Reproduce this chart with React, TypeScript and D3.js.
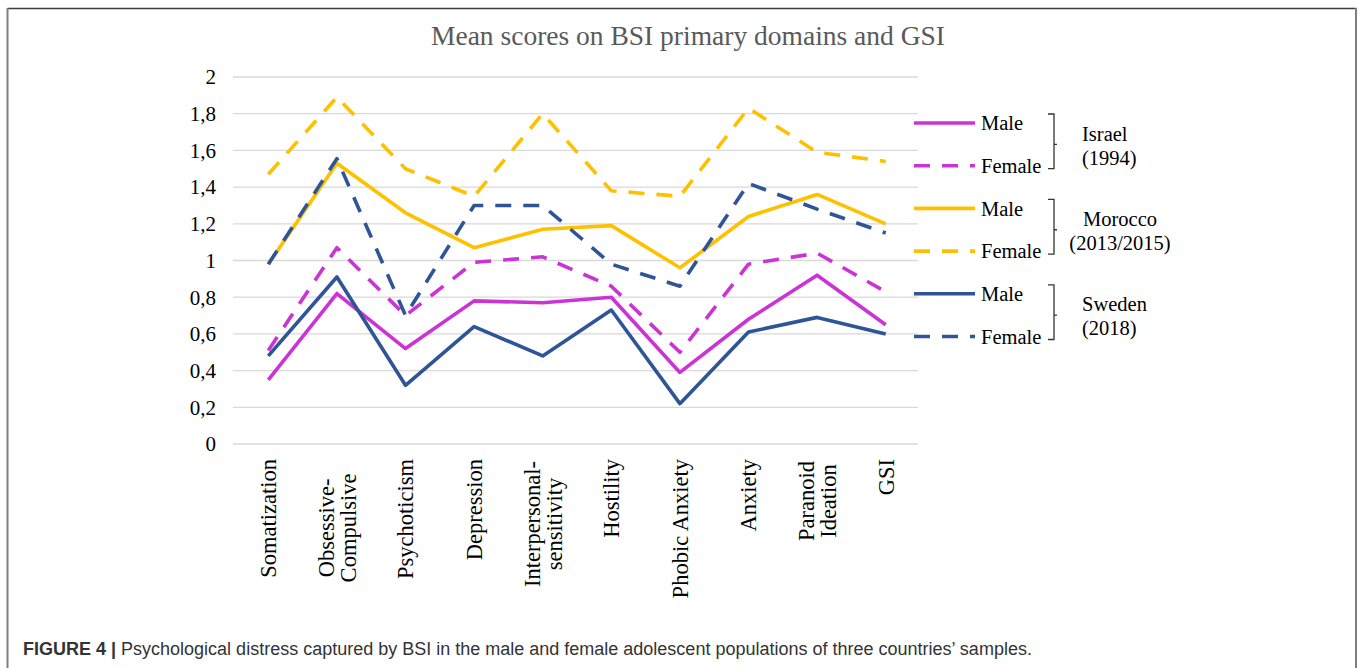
import React from "react";
import * as d3 from "d3";

const categories: string[][] = [
  ["Somatization"],
  ["Obsessive-", "Compulsive"],
  ["Psychoticism"],
  ["Depression"],
  ["Interpersonal-", "sensitivity"],
  ["Hostility"],
  ["Phobic Anxiety"],
  ["Anxiety"],
  ["Paranoid", "Ideation"],
  ["GSI"],
];

const israelMale = [0.35, 0.82, 0.52, 0.78, 0.77, 0.8, 0.39, 0.68, 0.92, 0.65];
const israelFemale = [0.51, 1.07, 0.7, 0.99, 1.02, 0.86, 0.5, 0.98, 1.04, 0.83];
const moroccoMale = [0.98, 1.53, 1.26, 1.07, 1.17, 1.19, 0.96, 1.24, 1.36, 1.2];
const moroccoFemale = [1.47, 1.89, 1.5, 1.35, 1.8, 1.38, 1.35, 1.83, 1.59, 1.54];
const swedenMale = [0.48, 0.91, 0.32, 0.64, 0.48, 0.73, 0.22, 0.61, 0.69, 0.6];
const swedenFemale = [0.98, 1.555, 0.7, 1.3, 1.3, 0.98, 0.86, 1.42, 1.28, 1.15];

const yTicks = [0, 0.2, 0.4, 0.6, 0.8, 1, 1.2, 1.4, 1.6, 1.8, 2];

const countries = [
  { name: "Israel", years: "(1994)", male: israelMale, female: israelFemale, color: "#CC33D6" },
  { name: "Morocco", years: "(2013/2015)", male: moroccoMale, female: moroccoFemale, color: "#FFC000" },
  { name: "Sweden", years: "(2018)", male: swedenMale, female: swedenFemale, color: "#2F5597" },
];

const title = "Mean scores on BSI primary domains and GSI";
const captionBold = "FIGURE 4";
const captionText = "Psychological distress captured by BSI in the male and female adolescent populations of three countries\u2019 samples.";

const SERIF = "'Liberation Serif', 'Times New Roman', serif";
const SANS = "'Liberation Sans', Arial, sans-serif";

// layout
const W = 1358;
const H = 668;
const plotLeft = 234;
const plotRight = 920;
const plotTop = 77;
const plotBottom = 444;
const labelTop = 459;
const multiCenters: Record<number, number> = { 1: 528, 4: 524, 8: 501 };
const legendGroupTop = 123;
const legendRowGap = 42.7;
const dash = "16,12";
const lw = 3.6;

export default function App() {
  const x = d3
    .scaleBand<number>()
    .domain(categories.map((_, i) => i))
    .range([plotLeft, plotRight])
    .padding(0);
  const cx = (i: number) => (x(i) as number) + x.bandwidth() / 2;
  const y = d3.scaleLinear().domain([0, 2]).range([plotBottom, plotTop]);
  const line = d3
    .line<number>()
    .x((_, i) => cx(i))
    .y((d) => y(d));
  const fmt = (v: number) => String(+v.toFixed(1)).replace(".", ",");

  const series: { vals: number[]; color: string; dashed: boolean }[] = [];
  countries.forEach((c) => {
    series.push({ vals: c.male, color: c.color, dashed: false });
    series.push({ vals: c.female, color: c.color, dashed: true });
  });
  return (
    <svg
      width={W}
      height={H}
      style={{ position: "absolute", left: 0, top: 0, background: "#fff" }}
    >
      <rect x={0} y={0} width={W} height={H} fill="#fff" />
      {/* frame */}
      <line x1={7.5} y1={8.5} x2={1356.5} y2={8.5} stroke="#3c3c3c" strokeWidth={1.6} />
      <line x1={7.5} y1={8} x2={7.5} y2={H} stroke="#7f7f7f" strokeWidth={2} />
      <line x1={1356} y1={8} x2={1356} y2={H} stroke="#7f7f7f" strokeWidth={2} />

      <text x={688} y={45} textAnchor="middle" fontFamily={SERIF} fontSize={27.5} fill="#595959">
        {title}
      </text>

      {/* gridlines */}
      {yTicks.map((t) => (
        <g key={t}>
          <line x1={plotLeft - 1} x2={plotRight - 2} y1={y(t)} y2={y(t)} stroke="#d9d9d9" strokeWidth={1.3} />
          <text x={216} y={y(t)} dy="0.35em" textAnchor="end" fontFamily={SERIF} fontSize={21} fill="#000">
            {fmt(t)}
          </text>
        </g>
      ))}

      {/* x labels */}
      {categories.map((lines, i) => {
        if (lines.length === 1) {
          return (
            <text
              key={i}
              transform={`translate(${cx(i)},${labelTop}) rotate(-90)`}
              textAnchor="end"
              dy="0.35em"
              fontFamily={SERIF}
              fontSize={22.5}
            >
              {lines[0]}
            </text>
          );
        }
        const cy = multiCenters[i] ?? labelTop + 50;
        return (
          <g key={i} transform={`translate(${cx(i)},${cy}) rotate(-90)`}>
            {lines.map((l, j) => (
              <text
                key={j}
                x={0}
                y={(j - (lines.length - 1) / 2) * 22}
                dy="0.35em"
                textAnchor="middle"
                fontFamily={SERIF}
                fontSize={22.5}
              >
                {l}
              </text>
            ))}
          </g>
        );
      })}

      {/* series */}
      {series.map((s, k) => (
        <path
          key={k}
          d={line(s.vals) as string}
          fill="none"
          stroke={s.color}
          strokeWidth={lw}
          strokeDasharray={s.dashed ? dash : undefined}
          strokeLinejoin="round"
        />
      ))}

      {/* legend */}
      {countries.map((c, ci) => {
        const y0 = legendGroupTop + ci * 2 * legendRowGap;
        const y1 = y0 + legendRowGap;
        const bx = 1054;
        const midY = (y0 + y1) / 2;
        const textAnchor = ci === 1 ? "middle" : "start";
        const tx = ci === 1 ? 1120 : 1082;
        return (
          <g key={c.name}>
            <line x1={914} x2={975} y1={y0} y2={y0} stroke={c.color} strokeWidth={lw} />
            <line x1={914} x2={975} y1={y1} y2={y1} stroke={c.color} strokeWidth={lw} strokeDasharray={dash} />
            <text x={981} y={y0} dy="0.35em" fontFamily={SERIF} fontSize={20.5}>
              Male
            </text>
            <text x={981} y={y1} dy="0.35em" fontFamily={SERIF} fontSize={20.5}>
              Female
            </text>
            <path
              d={`M${bx - 6},${y0 - 9}H${bx}V${y1 + 3}H${bx - 6}M${bx},${midY}H${bx + 3}`}
              fill="none"
              stroke="#333"
              strokeWidth={1.3}
            />
            <text x={tx} y={midY - 11} dy="0.35em" textAnchor={textAnchor} fontFamily={SERIF} fontSize={20.5}>
              {c.name}
            </text>
            <text x={tx} y={midY + 13} dy="0.35em" textAnchor={textAnchor} fontFamily={SERIF} fontSize={20.5}>
              {c.years}
            </text>
          </g>
        );
      })}

      {/* caption */}
      <text x={23} y={655} fontFamily={SANS} fontSize={18} fill="#333">
        <tspan fontWeight="bold">{captionBold}</tspan>
        <tspan fontWeight="bold"> | </tspan>
        <tspan>{captionText}</tspan>
      </text>
    </svg>
  );
}
